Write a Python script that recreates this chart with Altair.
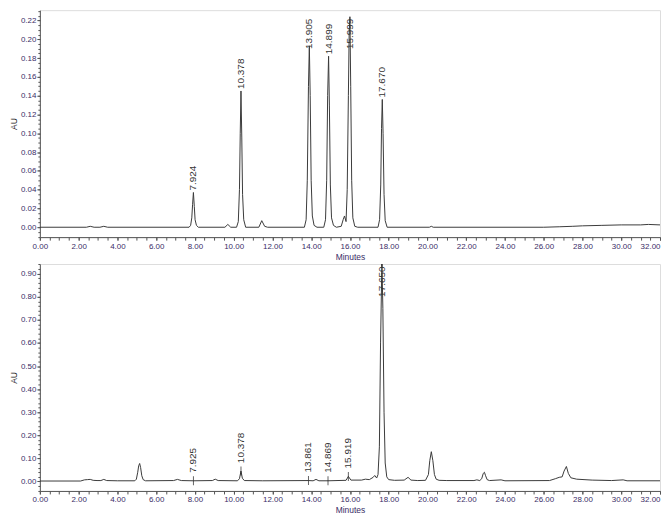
import altair as alt
import pandas as pd

# ---------------- data ----------------
# top chromatogram (minutes, AU)
top_t = [0.0, 2.4, 2.6, 2.8, 3.1, 3.3, 3.5,
         7.70, 7.78, 7.84, 7.88, 7.924, 7.97, 8.01, 8.08, 8.18,
         9.55, 9.70, 9.85,
         10.15, 10.24, 10.30, 10.34, 10.378, 10.42, 10.46, 10.52, 10.62,
         11.30, 11.45, 11.60, 11.75,
         13.65, 13.74, 13.80, 13.86, 13.905, 13.95, 14.00, 14.06, 14.15, 14.30,
         14.65, 14.74, 14.80, 14.85, 14.899, 14.94, 14.99, 15.05, 15.15, 15.30,
         15.55, 15.65, 15.72, 15.80, 15.86, 15.92, 15.96, 15.999, 16.04, 16.09, 16.15, 16.25, 16.40,
         17.45, 17.53, 17.59, 17.63, 17.670, 17.71, 17.76, 17.82, 17.92,
         20.10, 20.20, 20.30,
         26.00, 26.80, 27.50, 28.00, 29.00, 30.00, 31.00, 31.40, 32.00]
top_au = [0.000, 0.000, 0.001, 0.000, 0.000, 0.001, 0.000,
          0.000, 0.002, 0.010, 0.024, 0.037, 0.022, 0.008, 0.002, 0.000,
          0.000, 0.003, 0.000,
          0.000, 0.006, 0.040, 0.100, 0.145, 0.095, 0.035, 0.008, 0.000,
          0.000, 0.007, 0.001, 0.000,
          0.000, 0.008, 0.050, 0.150, 0.193, 0.140, 0.050, 0.012, 0.002, 0.000,
          0.000, 0.008, 0.050, 0.140, 0.182, 0.130, 0.045, 0.010, 0.002, 0.000,
          0.001, 0.008, 0.012, 0.006, 0.040, 0.140, 0.205, 0.224, 0.150, 0.050, 0.010, 0.001, 0.000,
          0.000, 0.008, 0.045, 0.105, 0.136, 0.100, 0.035, 0.007, 0.000,
          0.000, 0.001, 0.000,
          0.000, 0.0005, 0.001, 0.0015, 0.002, 0.0025, 0.0025, 0.003, 0.0025]

# bottom chromatogram (minutes, AU)
bot_t = [0.0, 2.1, 2.3, 2.45, 2.6, 2.75, 2.95, 3.15, 3.3, 3.45, 4.0,
         4.9, 4.98, 5.05, 5.10, 5.15, 5.20, 5.26, 5.33, 5.45,
         6.9, 7.1, 7.3, 7.925, 8.9, 9.05, 9.2,
         10.2, 10.3, 10.378, 10.45, 10.55, 11.5,
         13.861, 14.1, 14.25, 14.4, 14.869, 15.8, 15.919, 16.05,
         16.6, 16.8, 17.0, 17.2, 17.28, 17.38, 17.45, 17.52, 17.58, 17.650, 17.70, 17.76, 17.82, 17.90, 18.00,
         18.3, 18.8, 19.0, 19.15, 19.5,
         19.9, 20.05, 20.12, 20.2, 20.28, 20.36, 20.45, 20.6, 21.0,
         22.4, 22.55, 22.7, 22.80, 22.88, 22.94, 23.0, 23.08, 23.2, 23.8, 24.0,
         26.3, 26.6, 26.8, 26.95, 27.05, 27.17, 27.27, 27.4, 27.7,
         28.5, 29.5, 30.1, 30.3, 32.0]
bot_au = [0.002, 0.002, 0.007, 0.008, 0.009, 0.005, 0.004, 0.004, 0.009, 0.004, 0.003,
          0.003, 0.010, 0.040, 0.068, 0.078, 0.060, 0.025, 0.008, 0.003,
          0.004, 0.009, 0.004, 0.003, 0.004, 0.010, 0.004,
          0.003, 0.012, 0.045, 0.014, 0.004, 0.003,
          0.004, 0.003, 0.009, 0.003, 0.003, 0.005, 0.022, 0.006,
          0.006, 0.010, 0.008, 0.018, 0.026, 0.015, 0.030, 0.150, 0.600, 0.950, 0.750, 0.300, 0.080, 0.020, 0.008,
          0.005, 0.006, 0.018, 0.006, 0.004,
          0.005, 0.030, 0.090, 0.129, 0.090, 0.030, 0.010, 0.005, 0.004,
          0.004, 0.007, 0.004, 0.012, 0.035, 0.040, 0.025, 0.008, 0.004, 0.007, 0.003,
          0.004, 0.012, 0.018, 0.020, 0.045, 0.065, 0.035, 0.016, 0.010,
          0.006, 0.004, 0.007, 0.003, 0.003]

# peak labels
top_peak_t = [7.924, 10.378, 13.905, 14.899, 15.999, 17.670]
top_peak_lbl = ["7.924", "10.378", "13.905", "14.899", "15.999", "17.670"]
top_peak_au = [0.037, 0.145, 0.193, 0.182, 0.224, 0.136]

bot_peak_t = [7.925, 10.378, 13.861, 14.869, 15.919, 17.650]
bot_peak_lbl = ["7.925", "10.378", "13.861", "14.869", "15.919", "17.650"]
bot_peak_au = [0.003, 0.045, 0.004, 0.003, 0.022, 0.950]

# axis tick values
x_major = [0, 2, 4, 6, 8, 10, 12, 14, 16, 18, 20, 22, 24, 26, 28, 30, 32]
x_minor = [i * 0.5 for i in range(65)]
top_y_major = [0.00, 0.02, 0.04, 0.06, 0.08, 0.10, 0.12, 0.14, 0.16, 0.18, 0.20, 0.22]
top_y_minor = [round(-0.01 + i * 0.005, 4) for i in range(49)]
bot_y_major = [0.00, 0.10, 0.20, 0.30, 0.40, 0.50, 0.60, 0.70, 0.80, 0.90]
bot_y_minor = [round(-0.04 + i * 0.02, 3) for i in range(50)]

# ---------------- style ----------------
W, H = 623, 228
LINE = "#3a3a3a"
AXC = "#555555"
LAB = "#3a2c66"
TICK_FONT = "Liberation Sans, Arial, sans-serif"
LBL_FONT = "Liberation Sans, Arial, sans-serif"


def panel(t, au, pk_t, pk_lbl, pk_au, ydom, ymaj, ymin, ymaj_fmt, lbl_dx, markers):
    df = pd.DataFrame({"t": t, "au": au})
    cap = ydom[1] - 0.18 * (ydom[1] - ydom[0])
    lab = pd.DataFrame({"t": pk_t, "lbl": pk_lbl, "au": pk_au})
    lab["ya"] = lab["au"].clip(upper=cap)

    xs = alt.Scale(domain=[0, 32], nice=False, zero=False)
    ys = alt.Scale(domain=ydom, nice=False, zero=False)

    major_x = alt.Axis(values=x_major, format=".2f", tickSize=3, labelPadding=2,
                       labelFont=TICK_FONT, labelFontSize=8, labelColor=LAB,
                       title="Minutes", titleFont=TICK_FONT, titleFontSize=8.5,
                       titleFontWeight="normal", titleColor=LAB, titlePadding=2,
                       grid=False, domainColor=AXC, tickColor=AXC, orient="bottom",
                       labelAlign={"condition": {"test": "datum.value >= 32", "value": "right"},
                                   "value": "center"})
    major_y = alt.Axis(values=ymaj, format=ymaj_fmt, tickSize=3, labelPadding=1,
                       labelFont=TICK_FONT, labelFontSize=8, labelColor=LAB,
                       title="AU", titleFont=TICK_FONT, titleFontSize=8.5,
                       titleFontWeight="normal", titleColor="#222222", titlePadding=2,
                       grid=False, domainColor=AXC, tickColor=AXC, orient="left")
    minor_x = alt.Axis(values=x_minor, tickSize=3, labels=False, domain=False,
                       grid=False, title=None, tickColor=AXC, orient="bottom")
    minor_y = alt.Axis(values=ymin, tickSize=2, labels=False, domain=False,
                       grid=False, title=None, tickColor=AXC, orient="left")

    line = alt.Chart(df).mark_line(color=LINE, strokeWidth=1, clip=True).encode(
        x=alt.X("t:Q", scale=xs, axis=major_x),
        y=alt.Y("au:Q", scale=ys, axis=major_y),
        order="t:Q",
    )
    minor = alt.Chart(df).mark_line(opacity=0, clip=True).encode(
        x=alt.X("t:Q", scale=xs, axis=minor_x),
        y=alt.Y("au:Q", scale=ys, axis=minor_y),
    )
    text = alt.Chart(lab).mark_text(angle=270, align="left", baseline="middle",
                                    dx=lbl_dx, font=LBL_FONT, fontSize=10,
                                    color="#333333").encode(
        x=alt.X("t:Q", scale=xs, axis=None),
        y=alt.Y("ya:Q", scale=ys, axis=None),
        text="lbl:N",
    )
    layers = [line, minor, text]
    if markers:
        tick = alt.Chart(lab).mark_tick(orient="vertical", size=9, thickness=1,
                                        color="#222222", clip=True).encode(
            x=alt.X("t:Q", scale=xs, axis=None),
            y=alt.Y("au:Q", scale=ys, axis=None),
        )
        layers.append(tick)
    return alt.layer(*layers).resolve_axis(x="independent", y="independent").properties(
        width=W, height=H)


top = panel(top_t, top_au, top_peak_t, top_peak_lbl, top_peak_au,
            [-0.0105, 0.231], top_y_major, top_y_minor, ".2f", 2, False)
bot = panel(bot_t, bot_au, bot_peak_t, bot_peak_lbl, bot_peak_au,
            [-0.041, 0.942], bot_y_major, bot_y_minor, ".2f", 8, True)

chart = alt.vconcat(top, bot, spacing=2).properties(
    padding={"left": 0, "right": 0, "top": 0, "bottom": 0}
).configure_view(stroke=AXC, strokeWidth=1).configure(background="white")

chart.save("out.html", embed_options={"renderer": "svg", "actions": False})
